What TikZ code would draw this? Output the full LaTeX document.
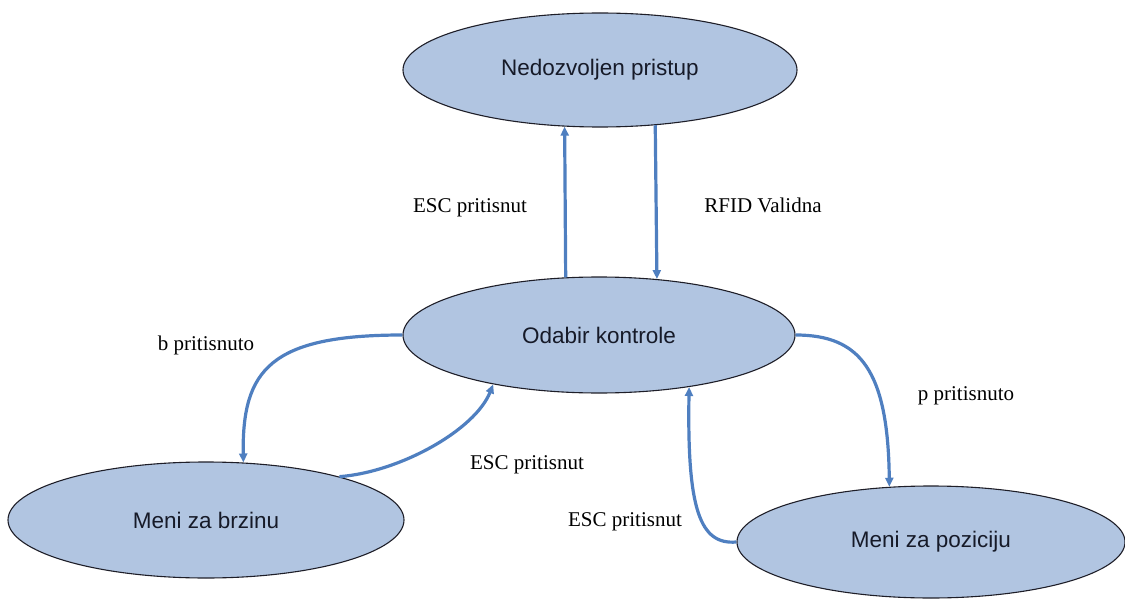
\documentclass[tikz,border=0pt]{standalone}
\usepackage{fontspec}
\setmainfont{Liberation Serif}
\newfontfamily\nodefont{Liberation Sans}
\usetikzlibrary{shapes.geometric,arrows.meta}
\definecolor{statefill}{RGB}{177,197,225}
\definecolor{arrowblue}{RGB}{79,127,192}
\definecolor{statetext}{RGB}{22,26,40}
\tikzset{
  state/.style={ellipse, draw={rgb,255:red,30;green,30;blue,40}, line width=1.1pt, fill=statefill,
    inner sep=0pt, text=statetext, font=\nodefont\fontsize{22.5}{27}\selectfont},
  trans/.style={draw=arrowblue, line width=3.2pt, -{Triangle[length=9pt,width=8pt]}},
  lbl/.style={anchor=base, inner sep=0pt, font=\fontsize{21}{25}\selectfont, text=black}
}
\begin{document}
\begin{tikzpicture}[x=1pt,y=-1pt]
\useasboundingbox (0,0) rectangle (1125,599);
\node[state, minimum width=394pt, minimum height=114pt] (nedoz) at (600,70) {Nedozvoljen pristup};
\node[state, minimum width=392pt, minimum height=116pt] (odabir) at (599,335) {Odabir kontrole};
\node[state, minimum width=396pt, minimum height=116pt] (brzina) at (206,520) {Meni za brzinu};
\node[state, minimum width=388pt, minimum height=112pt] (pozicija) at (931,542) {Meni za poziciju};

\draw[trans] (odabir.120.8) -- (nedoz.238);
\draw[trans] (nedoz.315.7) -- (odabir.44.2);
\draw[trans] (odabir.west) .. controls (270,335) and (242,370) .. (brzina.57.7);
\draw[trans] (brzina.18.2) .. controls (400,472) and (475,430) .. (odabir.205.5);
\draw[trans] (odabir.east) .. controls (860,335) and (888,370) .. (pozicija.127.7);
\draw[trans] (pozicija.west) .. controls (700,545) and (687,510) .. (odabir.-30.5);

\node[lbl] (l1) at (470,212) {ESC pritisnut};
\node[lbl] (l2) at (763,212) {RFID Validna};
\node[lbl] (l3) at (206,350) {b pritisnuto};
\node[lbl] (l4) at (527,469) {ESC pritisnut};
\node[lbl] (l5) at (625,526) {ESC pritisnut};
\node[lbl] (l6) at (966,400) {p pritisnuto};
\end{tikzpicture}
\end{document}
